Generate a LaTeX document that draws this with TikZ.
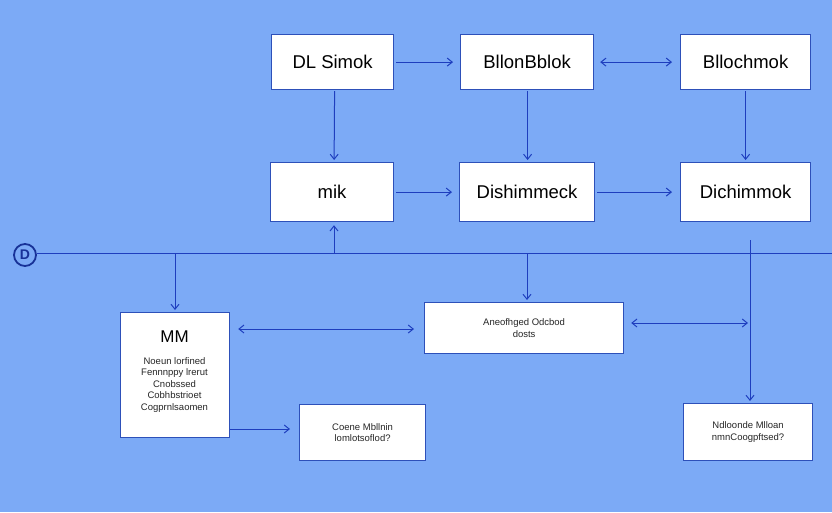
\documentclass[tikz,border=0pt]{standalone}
\usepackage{fontspec}
\setmainfont{Liberation Sans}
\usetikzlibrary{arrows.meta}
\definecolor{bgblue}{RGB}{124,170,246}
\definecolor{lineblue}{RGB}{30,62,190}
\definecolor{boxblue}{RGB}{45,80,185}
\tikzset{
  box/.style={draw=boxblue, line width=1.2pt, fill=white, inner sep=0pt, anchor=north west},
  conn/.style={draw=lineblue, line width=1pt, -{Straight Barb[length=5pt,width=8pt]}},
  dconn/.style={draw=lineblue, line width=1pt, {Straight Barb[length=5pt,width=8pt]}-{Straight Barb[length=5pt,width=8pt]}},
  big/.style={font=\fontsize{18.5}{20}\selectfont},
  small/.style={font=\fontsize{9.5}{11.5}\selectfont, align=center, text=black!85}
}
\begin{document}
\begin{tikzpicture}[x=1pt,y=-1pt]
\fill[bgblue] (0,0) rectangle (832,512);
\useasboundingbox (0,0) rectangle (832,512);
% top row
\node[box, minimum width=122pt, minimum height=55pt, big] (A) at (271,34) {DL Simok};
\node[box, minimum width=133pt, minimum height=55pt, big] (B) at (460,34) {BllonBblok};
\node[box, minimum width=130pt, minimum height=55pt, big] (C) at (680,34) {Bllochmok};
% second row
\node[box, minimum width=123pt, minimum height=59pt, big] (D) at (270,162) {mik};
\node[box, minimum width=135pt, minimum height=59pt, big] (E) at (459,162) {Dishimmeck};
\node[box, minimum width=130pt, minimum height=59pt, big] (F) at (680,162) {Dichimmok};
% bus line
\node[draw=lineblue!80!black, line width=1.8pt, circle, minimum size=22pt, inner sep=0pt, font=\bfseries\fontsize{14}{16}\selectfont, text=lineblue!80!black] (Dc) at (25,255) {D};
\coordinate (busR) at (832,253);
\draw[lineblue, line width=1pt] (Dc.east |- 0,253) -- (busR);
% lower boxes
\node[box, minimum width=109pt, minimum height=125pt] (G) at (120,312) {};
\node[font=\fontsize{17}{18}\selectfont] (Gt) at (174.5,337) {MM};
\node[small] (Gs) at (174.5,385) {Noeun lorfined\\Fennnppy lrerut\\Cnobssed\\Cobhbstrioet\\Cogprnlsaomen};
\node[box, minimum width=199pt, minimum height=51pt, small] (H) at (424,302) {Aneofhged Odcbod\\dosts};
\node[box, minimum width=126pt, minimum height=56pt, small] (I) at (299,404) {Coene Mbllnin\\lomlotsoflod?};
\node[box, minimum width=129pt, minimum height=57pt, small] (J) at (683,403) {Ndloonde Mlloan\\nmnCoogpftsed?};
% connectors top
\draw[conn] ([xshift=2pt]A.east) -- ([xshift=-7pt]B.west);
\draw[dconn] ([xshift=6pt]B.east) -- ([xshift=-8pt]C.west);
\draw[conn] ([xshift=2pt,yshift=-1pt]A.south) -- ([xshift=2pt,yshift=2pt]D.north);
\draw[conn] ([xshift=0.5pt,yshift=-1pt]B.south) -- ([xshift=0.5pt,yshift=2pt]E.north);
\draw[conn] ([yshift=-1pt]C.south) -- ([yshift=2pt]F.north);
\draw[conn] ([xshift=2pt]D.east) -- ([xshift=-7pt]E.west);
\draw[conn] ([xshift=2pt]E.east) -- ([xshift=-8pt]F.west);
% from bus
\coordinate (u1) at (334,253);
\draw[conn] (u1) -- ([yshift=-3pt]u1 |- D.south);
\coordinate (u2) at (175,253);
\draw[conn] (u2) -- ([yshift=2pt]u2 |- G.north);
\coordinate (u3) at (527,253);
\draw[conn] (u3) -- ([yshift=2pt]u3 |- H.north);
\coordinate (u4) at (750,240);
\draw[conn] (u4) -- ([yshift=2pt]u4 |- J.north);
% lower connectors
\draw[dconn] ([xshift=8pt]G.east |- 0,329) -- ([xshift=-10pt]H.west |- 0,329);
\coordinate (r1) at (748,323);
\draw[dconn] ([xshift=7pt]H.east |- 0,323) -- (r1);
\draw[conn] (G.east |- 0,429) -- ([xshift=-9pt]I.west |- 0,429);
\end{tikzpicture}
\end{document}
